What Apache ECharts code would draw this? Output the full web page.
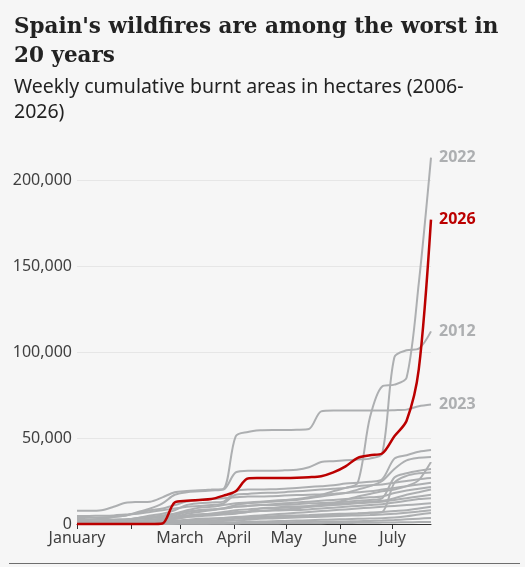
<!DOCTYPE html>
<html>
<head>
<meta charset="utf-8">
<script src="https://cdn.jsdelivr.net/npm/echarts@6/dist/echarts.min.js"></script>
<style>
  html, body { margin: 0; padding: 0; background: #f6f6f6; }
  #chart { width: 525px; height: 567px; }
</style>
</head>
<body>
<div id="chart"></div>
<script>
// day of year for each weekly reading (Jan 1 = 0)
const weekDays = [0, 7, 14, 21, 28, 35, 42, 49, 56, 63, 70, 77, 84, 91, 98, 105, 112, 119, 126, 133, 140, 147, 154, 161, 168, 175, 182, 189, 196, 203];

const monthStarts = [0, 31, 59, 90, 120, 151, 181];
const monthNames = ['January', 'February', 'March', 'April', 'May', 'June', 'July'];
const monthLabelDays = [0, 59, 90, 120, 151, 181];
const yTicks = [0, 50000, 100000, 150000, 200000];

// highlighted year
const y2026 = [0, 0, 0, 0, 0, 0, 0, 300, 12500, 13500, 14000, 14500, 16500, 19000, 26500, 26700, 26800, 26800, 26900, 27200, 27800, 30000, 33500, 38500, 40000, 41000, 51000, 60000, 90000, 177000];

// labelled years
const y2022 = [500, 800, 1200, 1800, 2500, 3500, 4000, 4500, 6000, 8000, 9500, 10000, 11000, 12000, 12500, 13000, 13500, 14000, 14500, 15500, 17000, 19000, 21000, 24000, 62000, 80000, 81000, 85000, 140000, 213000];
const y2012 = [2000, 2500, 3000, 4000, 5000, 7000, 9000, 12000, 17000, 18500, 19000, 19500, 20000, 30000, 31000, 31000, 31000, 31200, 31500, 33000, 36000, 36500, 37000, 37500, 38000, 41000, 97000, 101000, 102000, 112000];
const y2023 = [7700, 7700, 8000, 10000, 12300, 12800, 13000, 15500, 18500, 19200, 19600, 20000, 20500, 51000, 53500, 54500, 54700, 54700, 54800, 55200, 65500, 66000, 66000, 66000, 66000, 66000, 66200, 66500, 68500, 69500];

// the other years, drawn in grey without labels
const otherYears = ['2006', '2007', '2008', '2009', '2010', '2011', '2013', '2014', '2015', '2016', '2017', '2018', '2019', '2020', '2021', '2024', '2025'];
const otherValues = [
  [1000, 1200, 1500, 2000, 2500, 3500, 5000, 6000, 8000, 11000, 12000, 12500, 13000, 19000, 20000, 20000, 20200, 20500, 21000, 21500, 22000, 22500, 23500, 24000, 24500, 26000, 38000, 40000, 42000, 43000],
  [300, 300, 400, 500, 800, 1500, 2500, 3000, 4000, 6000, 7000, 8000, 9000, 11000, 12000, 12500, 13000, 13500, 14000, 15000, 16000, 17000, 18000, 20000, 22000, 25000, 32000, 37000, 38500, 39000],
  [0, 0, 100, 200, 300, 500, 1000, 2000, 3000, 4000, 4500, 5000, 5500, 6000, 7000, 7500, 8000, 8500, 9000, 10000, 11000, 12000, 14000, 16000, 17500, 19000, 20000, 22000, 25500, 36000],
  [1200, 1300, 1500, 1800, 2200, 3000, 4000, 5000, 6000, 7000, 8000, 8500, 9000, 10000, 10500, 11000, 11000, 11200, 11500, 12000, 12200, 12500, 13000, 13500, 14000, 15000, 27000, 29500, 31000, 32000],
  [200, 200, 300, 400, 500, 700, 900, 1500, 2000, 2500, 3000, 3200, 3500, 3800, 4000, 4200, 4500, 4800, 5000, 5200, 5500, 5800, 6000, 6200, 6500, 7000, 24000, 28000, 29500, 30000],
  [4600, 4700, 4800, 5000, 5500, 6000, 7000, 8000, 9000, 10000, 10500, 11000, 12000, 17000, 17500, 18000, 18200, 18500, 19000, 19500, 20000, 20500, 21000, 22000, 22500, 23000, 24000, 25000, 26000, 26700],
  [3500, 3600, 3800, 4200, 5000, 6500, 8000, 9000, 11000, 13000, 14000, 14500, 15000, 15500, 16000, 16000, 16200, 16500, 16800, 17000, 17200, 17500, 18000, 18500, 19000, 20000, 21000, 22000, 23000, 24000],
  [2300, 2400, 2500, 2600, 2800, 3000, 3500, 4000, 5000, 7000, 8000, 8500, 9000, 10000, 10500, 11000, 11500, 12000, 12500, 13000, 13500, 14000, 14500, 15000, 15500, 16000, 18000, 19500, 20500, 21500],
  [600, 700, 800, 900, 1000, 1200, 1500, 2000, 3000, 4000, 5000, 5500, 6000, 6500, 7000, 9000, 9500, 10000, 10200, 10500, 11000, 11500, 12000, 12500, 13000, 13500, 15000, 17000, 18500, 20000],
  [1300, 1400, 1500, 1600, 1800, 2000, 2500, 3000, 4000, 5000, 5500, 6000, 7000, 8000, 8500, 9000, 9200, 9500, 9800, 10000, 10500, 11000, 11500, 12000, 12500, 13000, 14000, 15000, 16000, 17000],
  [0, 100, 200, 300, 500, 800, 1200, 2000, 3000, 4500, 5500, 6000, 6500, 7000, 7200, 7500, 7800, 8000, 8200, 8500, 9000, 9500, 10000, 10500, 11000, 11500, 12500, 13500, 14500, 15000],
  [200, 200, 300, 400, 500, 600, 800, 1000, 1500, 2000, 2500, 3000, 3500, 4000, 4500, 5000, 5500, 6000, 6500, 7000, 7500, 8000, 8500, 9000, 9500, 10000, 10500, 11000, 11500, 12000],
  [0, 0, 100, 200, 300, 400, 600, 800, 1000, 1500, 2000, 2200, 2500, 3000, 3200, 3500, 3800, 4000, 4200, 4500, 4800, 5000, 5500, 6000, 6500, 7000, 7500, 8000, 9000, 10000],
  [0, 0, 0, 100, 200, 300, 400, 500, 800, 1000, 1200, 1500, 1800, 2000, 2500, 3000, 3200, 3500, 3800, 4000, 4200, 4500, 4800, 5000, 5200, 5500, 6000, 6500, 7200, 8000],
  [0, 0, 0, 0, 100, 200, 300, 400, 500, 600, 700, 800, 900, 1000, 1200, 1400, 1600, 1800, 2000, 2200, 2400, 2600, 2800, 3000, 3200, 3400, 3800, 4500, 5500, 6400],
  [0, 0, 0, 0, 0, 100, 100, 200, 200, 300, 300, 400, 500, 600, 700, 800, 900, 1000, 1100, 1200, 1300, 1400, 1500, 1600, 1800, 2000, 2300, 2700, 3100, 3500],
  [0, 0, 0, 0, 0, 0, 0, 0, 100, 100, 100, 200, 200, 200, 300, 300, 300, 400, 400, 500, 500, 600, 600, 700, 700, 800, 900, 1000, 1100, 1200]
];

const GREY = '#adafb1';
const RED = '#bb0000';

function pairs(values) {
  return values.map((v, i) => [weekDays[i], v]);
}

function lineSeries(name, values, color, width, label, z) {
  return {
    name: name,
    type: 'line',
    data: pairs(values),
    smooth: 0.3,
    showSymbol: false,
    clip: false,
    silent: true,
    z: z,
    lineStyle: { color: color, width: width },
    endLabel: {
      show: label,
      formatter: '{a}',
      color: color,
      fontFamily: 'Noto Sans',
      fontSize: 16,
      fontWeight: 'bold',
      distance: 8
    }
  };
}

const series = [];
otherYears.forEach((yr, i) => series.push(lineSeries(yr, otherValues[i], GREY, 2, false, 2)));
series.push(lineSeries('2023', y2023, GREY, 2, true, 3));
series.push(lineSeries('2012', y2012, GREY, 2, true, 3));
series.push(lineSeries('2022', y2022, GREY, 2, true, 3));
series.push(lineSeries('2026', y2026, RED, 2.5, true, 5));

const chart = echarts.init(document.getElementById('chart'));
chart.setOption({
  backgroundColor: '#f6f6f6',
  animation: false,
  title: {
    left: 9,
    top: 8,
    text: "Spain's wildfires are among the worst in\n20 years",
    subtext: 'Weekly cumulative burnt areas in hectares (2006-\n2026)',
    itemGap: 4,
    textStyle: {
      fontFamily: 'DejaVu Serif',
      fontSize: 21.5,
      fontWeight: 'bold',
      lineHeight: 29,
      color: '#222222'
    },
    subtextStyle: {
      fontFamily: 'Noto Sans',
      fontSize: 19.5,
      lineHeight: 25,
      color: '#222222'
    }
  },
  grid: {
    left: 77,
    right: 94,
    top: 180,
    bottom: 43
  },
  xAxis: {
    type: 'value',
    min: 0,
    max: 203,
    axisLine: { show: true, lineStyle: { color: '#333333', width: 1 } },
    axisTick: { show: true, length: 5, customValues: monthStarts, lineStyle: { color: '#333333' } },
    axisLabel: {
      customValues: monthLabelDays,
      formatter: v => monthNames[monthStarts.indexOf(v)],
      fontFamily: 'Noto Sans',
      fontSize: 16,
      color: '#404040',
      margin: 6
    },
    splitLine: { show: false }
  },
  yAxis: {
    type: 'value',
    min: yTicks[0],
    max: yTicks[yTicks.length - 1],
    interval: 50000,
    axisLine: { show: false },
    axisTick: { show: false },
    axisLabel: {
      formatter: v => v.toLocaleString('en-US'),
      fontFamily: 'Noto Sans',
      fontSize: 16,
      color: '#404040',
      margin: 5
    },
    splitLine: { lineStyle: { color: '#e6e6e6', width: 1 } }
  },
  graphic: [{
    type: 'line',
    shape: { x1: 9, y1: 563.5, x2: 520, y2: 563.5 },
    style: { stroke: '#6e6e6e', lineWidth: 1 }
  }],
  series: series
});
window.addEventListener('resize', function () {
  chart.resize();
});
</script>
</body>
</html>
